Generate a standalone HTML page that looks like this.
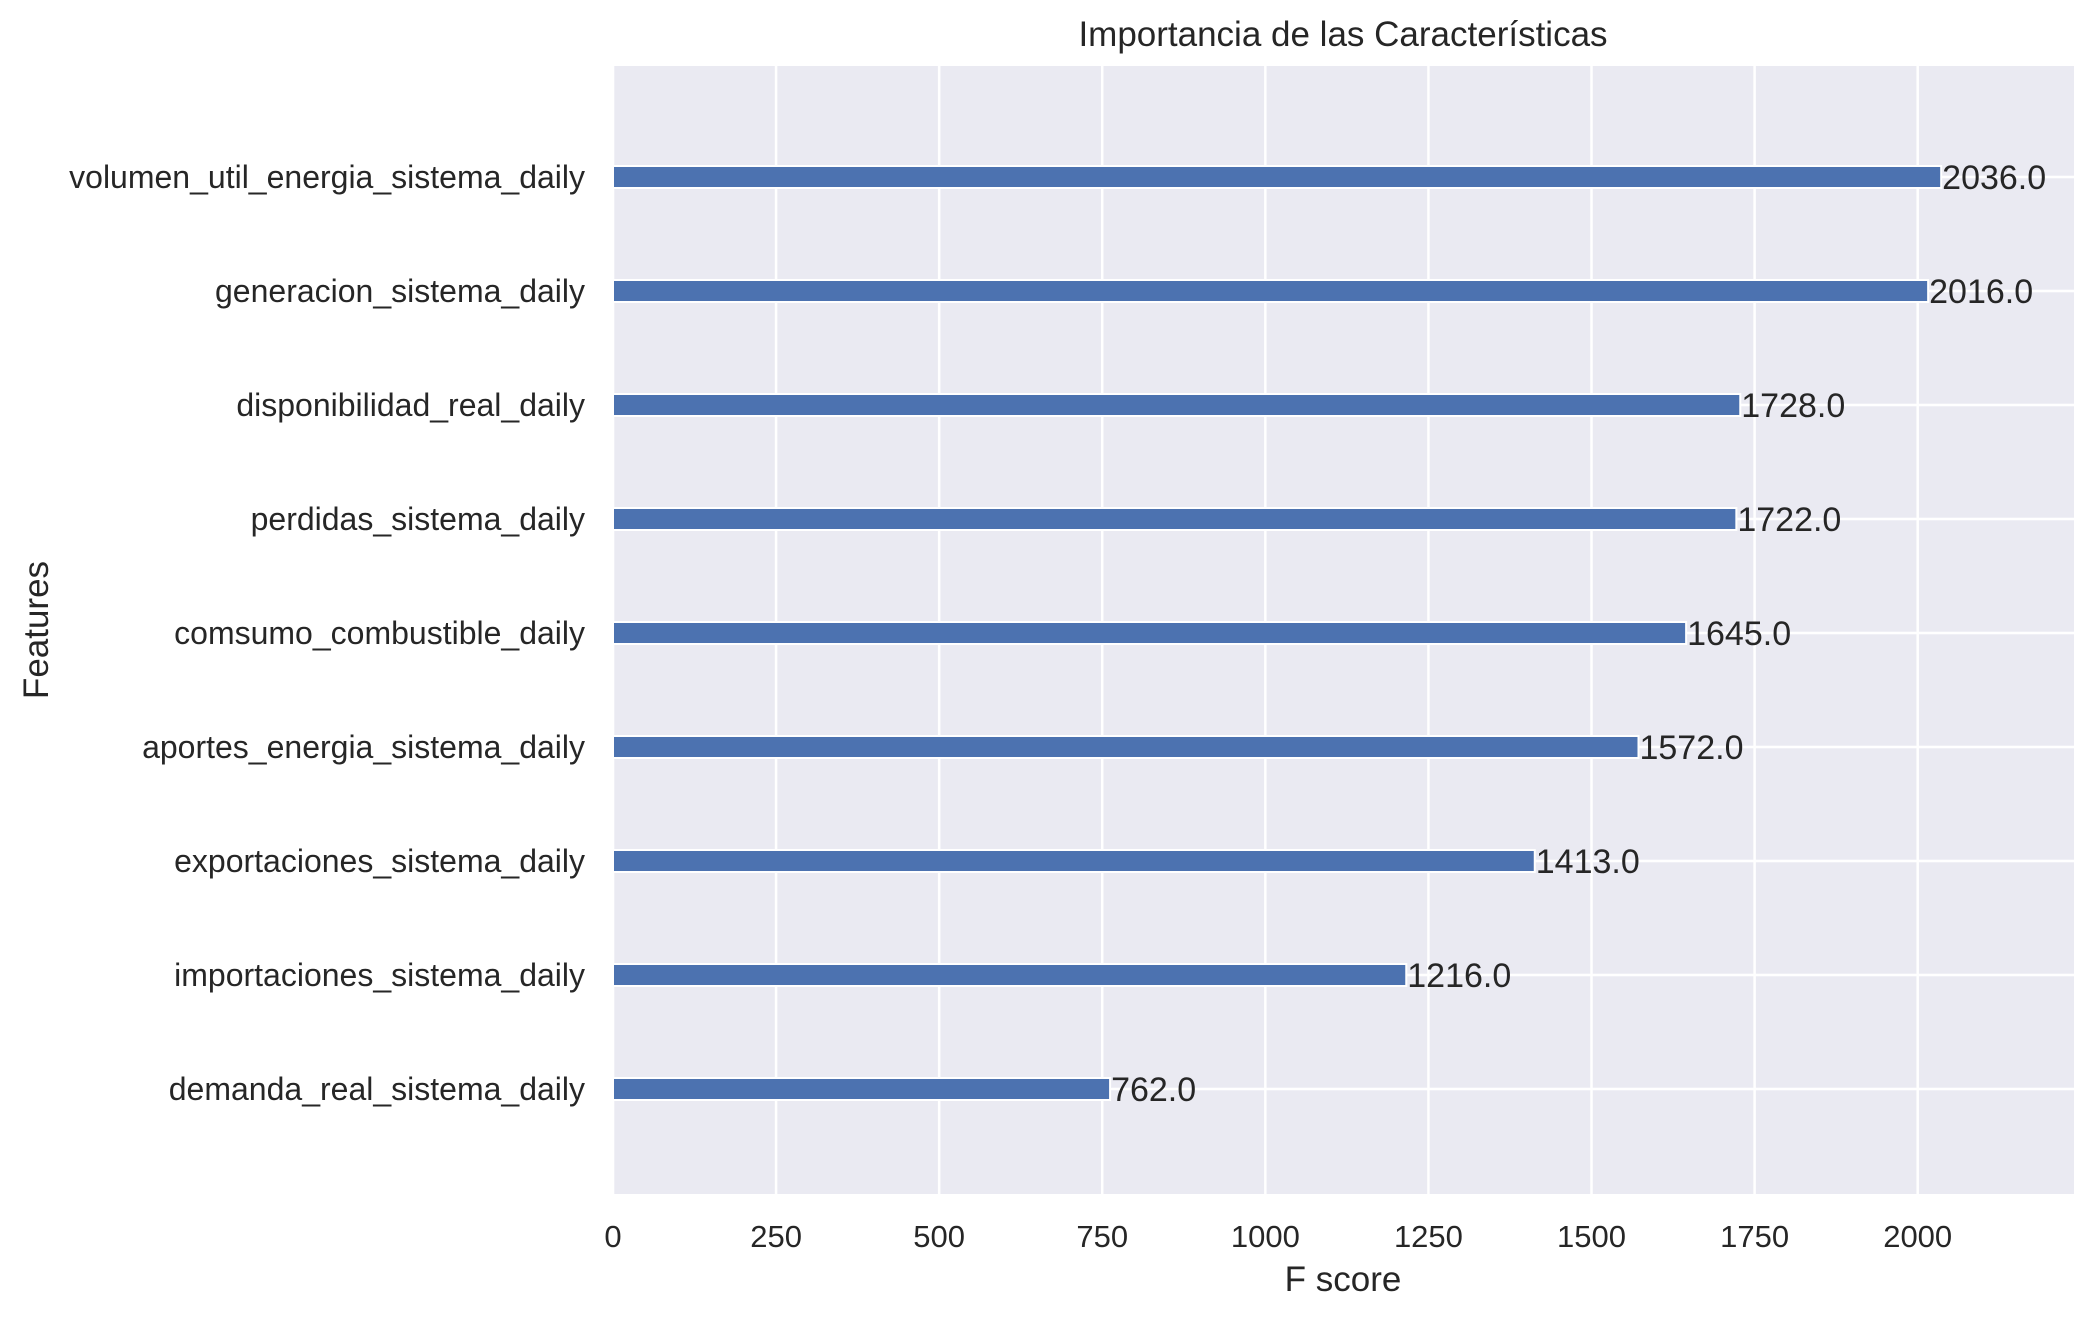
<!DOCTYPE html>
<html><head><meta charset="utf-8"><style>
html,body{margin:0;padding:0;background:#fff;}
svg{display:block;font-family:"Liberation Sans",Arial,sans-serif;}
</style></head><body>
<svg id="chart" width="2096" height="1318" viewBox="0 0 2096 1318" xmlns="http://www.w3.org/2000/svg">
<rect x="613" y="66" width="1461" height="1128" fill="#EAEAF2"/>
<g id="grid"></g>
<g id="bars"></g>
<g id="labels"></g>
<text x="1343" y="46" font-size="35" text-anchor="middle" fill="#262626">Importancia de las Características</text>
<text x="1343" y="1291" font-size="35" text-anchor="middle" fill="#262626">F score</text>
<text x="0" y="0" transform="translate(48,630) rotate(-90)" font-size="35" text-anchor="middle" fill="#262626">Features</text>
</svg>
<script>
const features = ["demanda_real_sistema_daily","importaciones_sistema_daily","exportaciones_sistema_daily","aportes_energia_sistema_daily","comsumo_combustible_daily","perdidas_sistema_daily","disponibilidad_real_daily","generacion_sistema_daily","volumen_util_energia_sistema_daily"];
const scores = [762,1216,1413,1572,1645,1722,1728,2016,2036];
const xTicks = [0,250,500,750,1000,1250,1500,1750,2000];
const NS="http://www.w3.org/2000/svg";
const L=613,R=2074,T=66,B=1194;
const XMAX=Math.max(...scores)*1.1;
function xs(v){return L+(v/XMAX)*(R-L);}
function ys(i){return 1089-114*i;}
function mk(tag,attrs,parent){const e=document.createElementNS(NS,tag);for(const k in attrs)e.setAttribute(k,attrs[k]);parent.appendChild(e);return e;}
const grid=document.getElementById('grid'),bars=document.getElementById('bars'),labels=document.getElementById('labels');
xTicks.forEach(t=>{
  const g=mk('line',{x1:xs(t),x2:xs(t),y1:T,y2:B,stroke:'#fff','stroke-width':2.5},grid);
  
  
  const tx=mk('text',{x:xs(t),y:1247,'font-size':31,'text-anchor':'middle',fill:'#262626'},labels);
  tx.textContent=t;
  
  
});
features.forEach((f,i)=>{
  const y=ys(i);
  const g=mk('line',{x1:L,x2:R,y1:y,y2:y,stroke:'#fff','stroke-width':2.5},grid);
  
  
  const b=mk('rect',{x:xs(0),y:y-11,width:xs(scores[i])-xs(0),height:22,fill:'#4C72B0',stroke:'#fff','stroke-width':2},bars);
  
  
  const v=mk('text',{x:xs(scores[i])+1,y:y+12,'font-size':34,fill:'#262626'},labels);
  v.textContent=scores[i].toFixed(1);
  
  
  const tl=mk('text',{x:585,y:y+11,'font-size':32,'text-anchor':'end',fill:'#262626'},labels);
  tl.textContent=f;
  
  
});
</script>
</body></html>
